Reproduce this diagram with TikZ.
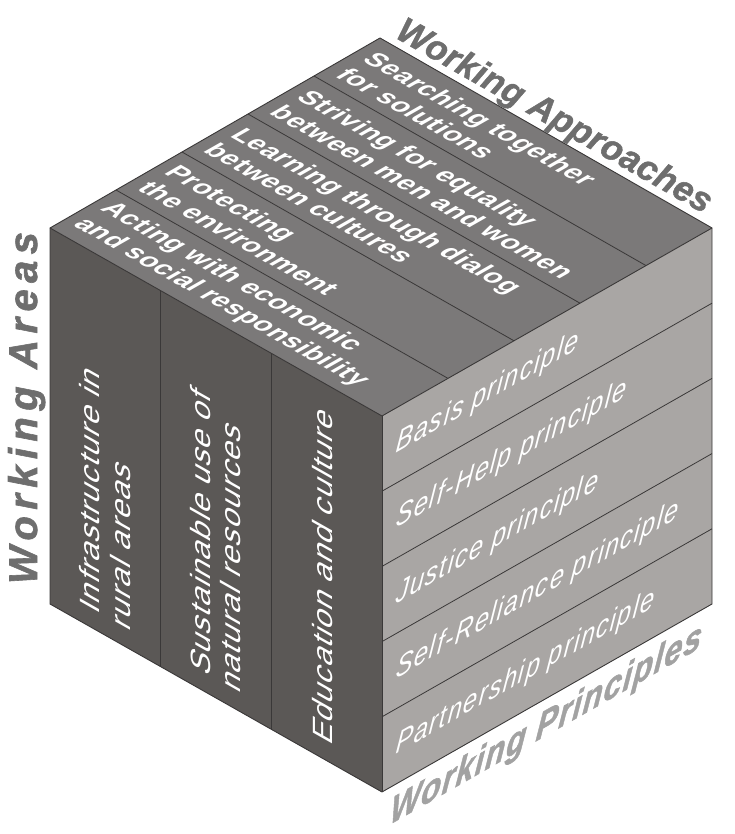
\documentclass[tikz,border=0pt]{standalone}
\usepackage{fontspec}
\setmainfont{Liberation Sans}
\newfontfamily\topfont[LetterSpace=2]{Liberation Sans}
\newfontfamily\leftfont[LetterSpace=4]{Liberation Sans}
\newfontfamily\rightfont[LetterSpace=6]{Liberation Sans}
\newfontfamily\areafont[LetterSpace=16,FakeBold=1.5]{Liberation Sans}
\newfontfamily\apprfont[LetterSpace=1,FakeBold=1.5]{Liberation Sans}
\newfontfamily\princfont[LetterSpace=4,FakeBold=1.5]{Liberation Sans}
\usetikzlibrary{calc}
\definecolor{leftgray}{HTML}{5B5856}
\definecolor{topgray}{HTML}{7B7979}
\definecolor{rightgray}{HTML}{A9A6A4}
\definecolor{edgegray}{HTML}{3A3838}
\definecolor{labeldark}{HTML}{6E6E6E}
\definecolor{labellight}{HTML}{A2A2A2}
\begin{document}
\begin{tikzpicture}[x=1pt,y=1pt,
  edge/.style={draw=edgegray, line width=0.9pt, line join=round},
  divider/.style={draw=edgegray, line width=0.8pt},
  toptext/.style={transform shape, text=white, font=\topfont\bfseries\fontsize{27}{31}\selectfont, align=left, anchor=west, inner sep=0pt},
  lefttext/.style={transform shape, text=white, font=\leftfont\fontsize{32}{34.5}\selectfont, align=left, anchor=west, inner sep=0pt},
  righttext/.style={transform shape, xslant=0.15, text=white, font=\rightfont\itshape\fontsize{29}{32}\selectfont, anchor=west, inner sep=0pt},
  areatext/.style={rotate=90, text=labeldark, font=\areafont\bfseries\itshape\fontsize{40}{44}\selectfont, anchor=base, inner sep=0pt},
  apprtext/.style={rotate=-29.7, text=labeldark, font=\apprfont\bfseries\itshape\fontsize{35}{40}\selectfont, anchor=base west, inner sep=0pt},
  princtext/.style={transform shape, xslant=0.15, text=labellight, font=\princfont\bfseries\itshape\fontsize{37}{42}\selectfont, anchor=base west, inner sep=0pt}
]
\useasboundingbox (0,0) rectangle (735,834);
\coordinate (F) at (382,418);
\coordinate (L) at (50,606);
\coordinate (R) at (712,606);
\coordinate (B) at (380,796);
\coordinate (FB) at (382,42);
\coordinate (LB) at (50,230);
\coordinate (RB) at (712,230);
% faces
\fill[leftgray] (L) -- (F) -- (FB) -- (LB) -- cycle;
\fill[topgray] (L) -- (B) -- (R) -- (F) -- cycle;
\fill[rightgray] (F) -- (R) -- (RB) -- (FB) -- cycle;
% dividers
\foreach \k in {1,2} \draw[divider] ($(L)!\k/3!(F)$) -- ($(LB)!\k/3!(FB)$);
\foreach \k in {1,2,3,4} \draw[divider] ($(L)!\k/5!(B)$) -- ($(F)!\k/5!(R)$);
\foreach \k in {1,2,3,4} \draw[divider] ($(F)!\k/5!(FB)$) -- ($(R)!\k/5!(RB)$);
% outline
\draw[edge] (L) -- (B) -- (R) -- (RB) -- (FB) -- (LB) -- cycle;
\draw[edge] (L) -- (F) -- (R);
\draw[edge] (F) -- (FB);
% top face texts
\begin{scope}[shift={(L)}, cm={0.871,-0.493,0.869,0.495,(0,0)}]
  \node[toptext] (ap1) at (10,38) {Acting with economic\\and social responsibility};
  \node[toptext] (ap2) at (10,114) {Protecting\\the environment};
  \node[toptext] (ap3) at (10,190) {Learning through dialog\\between cultures};
  \node[toptext] (ap4) at (10,266) {Striving for equality\\between men and women};
  \node[toptext] (ap5) at (10,342) {Searching together\\for solutions};
\end{scope}
\node[apprtext] (appr) at (394,797) {Working Approaches};
% left face texts
\begin{scope}[shift={(FB)}, cm={0,1,-0.871,0.493,(0,0)}]
  \node[lefttext] (wa1) at (17,318) {Infrastructure in\\rural areas};
  \node[lefttext] (wa2) at (17,191) {Sustainable use of\\natural resources};
  \node[lefttext] (wa3) at (17,68) {Education and culture};
\end{scope}
% right face texts
\begin{scope}[shift={(FB)}, cm={0.869,0.495,0,1,(0,0)}]
  \node[righttext] (wp1) at (16,338.4) {Basis principle};
  \node[righttext] (wp2) at (16,263.2) {Self-Help principle};
  \node[righttext] (wp3) at (16,188) {Justice principle};
  \node[righttext] (wp4) at (16,112.8) {Self-Reliance principle};
  \node[righttext] (wp5) at (16,37.6) {Partnership principle};
  \node[princtext] (princ) at (8,-37) {Working Principles};
\end{scope}
\node[areatext] (areas) at (37,426) {Working Areas};
\end{tikzpicture}
\end{document}
